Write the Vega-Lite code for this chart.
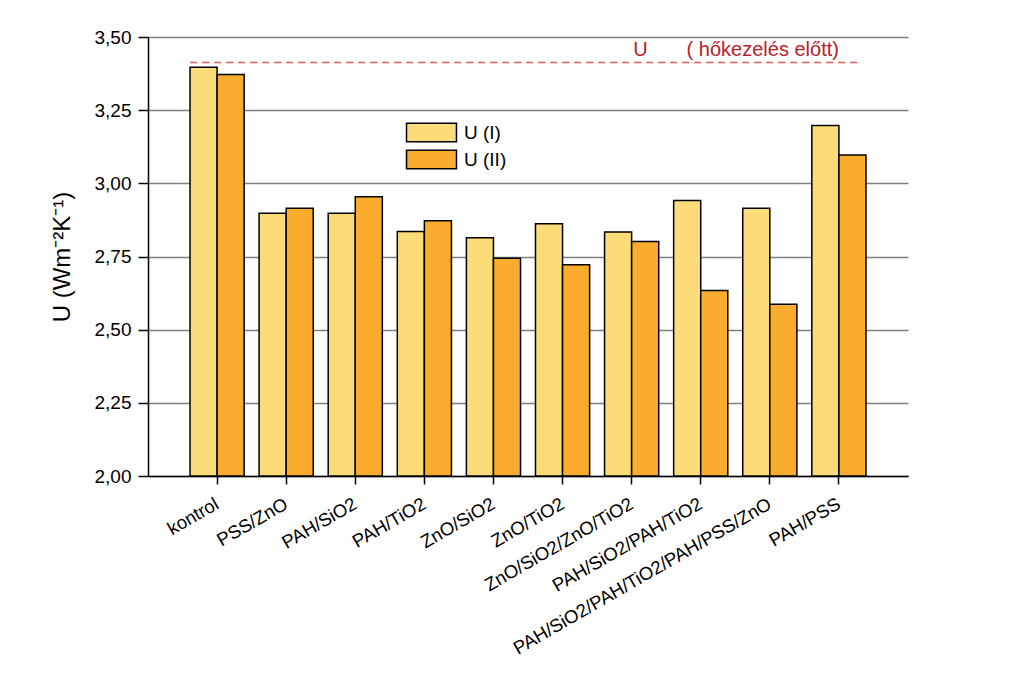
{
  "$schema": "https://vega.github.io/schema/vega-lite/v6.json",
  "autosize": {"type": "none"},
  "padding": {"left": 148, "top": 37, "right": 116, "bottom": 213},
  "width": 760,
  "height": 439,
  "background": "white",
  "config": {
    "view": {"stroke": null},
    "font": "Liberation Sans",
    "axis": {"labelFont": "Liberation Sans", "titleFont": "Liberation Sans", "labelColor": "black", "titleColor": "black", "domainColor": "black", "tickColor": "black", "domainWidth": 1.5, "tickWidth": 1.5}
  },
  "layer": [
    {
      "data": {"values": [
        {"cat": "kontrol", "series": "U (I)", "value": 3.397},
        {"cat": "kontrol", "series": "U (II)", "value": 3.372},
        {"cat": "PSS/ZnO", "series": "U (I)", "value": 2.898},
        {"cat": "PSS/ZnO", "series": "U (II)", "value": 2.915},
        {"cat": "PAH/SiO2", "series": "U (I)", "value": 2.898},
        {"cat": "PAH/SiO2", "series": "U (II)", "value": 2.954},
        {"cat": "PAH/TiO2", "series": "U (I)", "value": 2.835},
        {"cat": "PAH/TiO2", "series": "U (II)", "value": 2.872},
        {"cat": "ZnO/SiO2", "series": "U (I)", "value": 2.814},
        {"cat": "ZnO/SiO2", "series": "U (II)", "value": 2.744},
        {"cat": "ZnO/TiO2", "series": "U (I)", "value": 2.862},
        {"cat": "ZnO/TiO2", "series": "U (II)", "value": 2.722},
        {"cat": "ZnO/SiO2/ZnO/TiO2", "series": "U (I)", "value": 2.834},
        {"cat": "ZnO/SiO2/ZnO/TiO2", "series": "U (II)", "value": 2.801},
        {"cat": "PAH/SiO2/PAH/TiO2", "series": "U (I)", "value": 2.941},
        {"cat": "PAH/SiO2/PAH/TiO2", "series": "U (II)", "value": 2.634},
        {"cat": "PAH/SiO2/PAH/TiO2/PAH/PSS/ZnO", "series": "U (I)", "value": 2.915},
        {"cat": "PAH/SiO2/PAH/TiO2/PAH/PSS/ZnO", "series": "U (II)", "value": 2.587},
        {"cat": "PAH/PSS", "series": "U (I)", "value": 3.198},
        {"cat": "PAH/PSS", "series": "U (II)", "value": 3.097}
      ]},
      "mark": {"type": "bar", "stroke": "black", "strokeWidth": 1.5},
      "encoding": {
        "x": {
          "field": "cat", "type": "nominal", "sort": null,
          "scale": {"paddingInner": 0, "paddingOuter": 0.5},
          "axis": {"title": null, "labelAngle": -30, "labelAlign": "right", "labelBaseline": "middle", "labelPadding": 18, "labelFontSize": 18.5, "labelLimit": 0, "labelOverlap": false, "labelBound": false, "tickSize": 8, "grid": false}
        },
        "xOffset": {"field": "series", "type": "nominal", "scale": {"paddingInner": 0, "paddingOuter": 0.276}},
        "y": {
          "field": "value", "type": "quantitative",
          "title": "U (Wm⁻²K⁻¹)",
          "scale": {"domain": [2, 3.5], "nice": false, "zero": false},
          "axis": {
            "values": [2, 2.125, 2.25, 2.375, 2.5, 2.625, 2.75, 2.875, 3, 3.125, 3.25, 3.375, 3.5],
            "labelExpr": "(datum.value * 8) % 2 == 0 ? replace(format(datum.value, '.2f'), '.', ',') : ''",
            "labelFontSize": 19, "labelPadding": 7,
            "tickSize": {"condition": {"test": "(datum.value * 8) % 2 == 0", "value": 10}, "value": 5},
            "grid": true, "gridColor": "#7f7f7f", "gridWidth": 1.5,
            "titleFontSize": 24, "titleFontWeight": "normal", "titlePadding": 20
          }
        },
        "y2": {"datum": 2},
        "color": {
          "field": "series", "type": "nominal",
          "scale": {"domain": ["U (I)", "U (II)"], "range": ["#FBDC78", "#F9AC2E"]},
          "legend": {
            "title": null, "orient": "none", "legendX": 264, "legendY": 76,
            "fillColor": "white", "padding": 5, "rowPadding": 0,
            "symbolType": "M-1.85,-0.68H1.85V0.68H-1.85Z", "symbolSize": 729,
            "symbolStrokeColor": "black", "symbolStrokeWidth": 1.5, "symbolOpacity": 1,
            "labelFontSize": 19, "labelOffset": 18, "labelFont": "Liberation Sans", "labelColor": "black"
          }
        }
      }
    },
    {
      "data": {"values": [{"ref": 3.413, "label": "U\u00a0\u00a0\u00a0\u00a0\u00a0\u00a0\u00a0( hőkezelés előtt)"}]},
      "mark": {"type": "rule", "color": "#D85A5A", "strokeWidth": 1.5, "strokeDash": [7, 5]},
      "encoding": {
        "x": {"datum": "kontrol", "bandPosition": 0.11},
        "x2": {"datum": "PAH/PSS", "bandPosition": 0.83},
        "y": {"field": "ref", "type": "quantitative", "title": "U (Wm⁻²K⁻¹)"}
      }
    },
    {
      "data": {"values": [{"ref": 3.413, "label": "U\u00a0\u00a0\u00a0\u00a0\u00a0\u00a0\u00a0( hőkezelés előtt)"}]},
      "mark": {"type": "text", "color": "#B8202C", "fontSize": 20, "align": "right", "baseline": "alphabetic", "dy": -6, "font": "Liberation Sans"},
      "encoding": {
        "x": {"datum": "PAH/PSS", "bandPosition": 0.5},
        "y": {"field": "ref", "type": "quantitative", "title": "U (Wm⁻²K⁻¹)"},
        "text": {"field": "label"}
      }
    }
  ]
}
